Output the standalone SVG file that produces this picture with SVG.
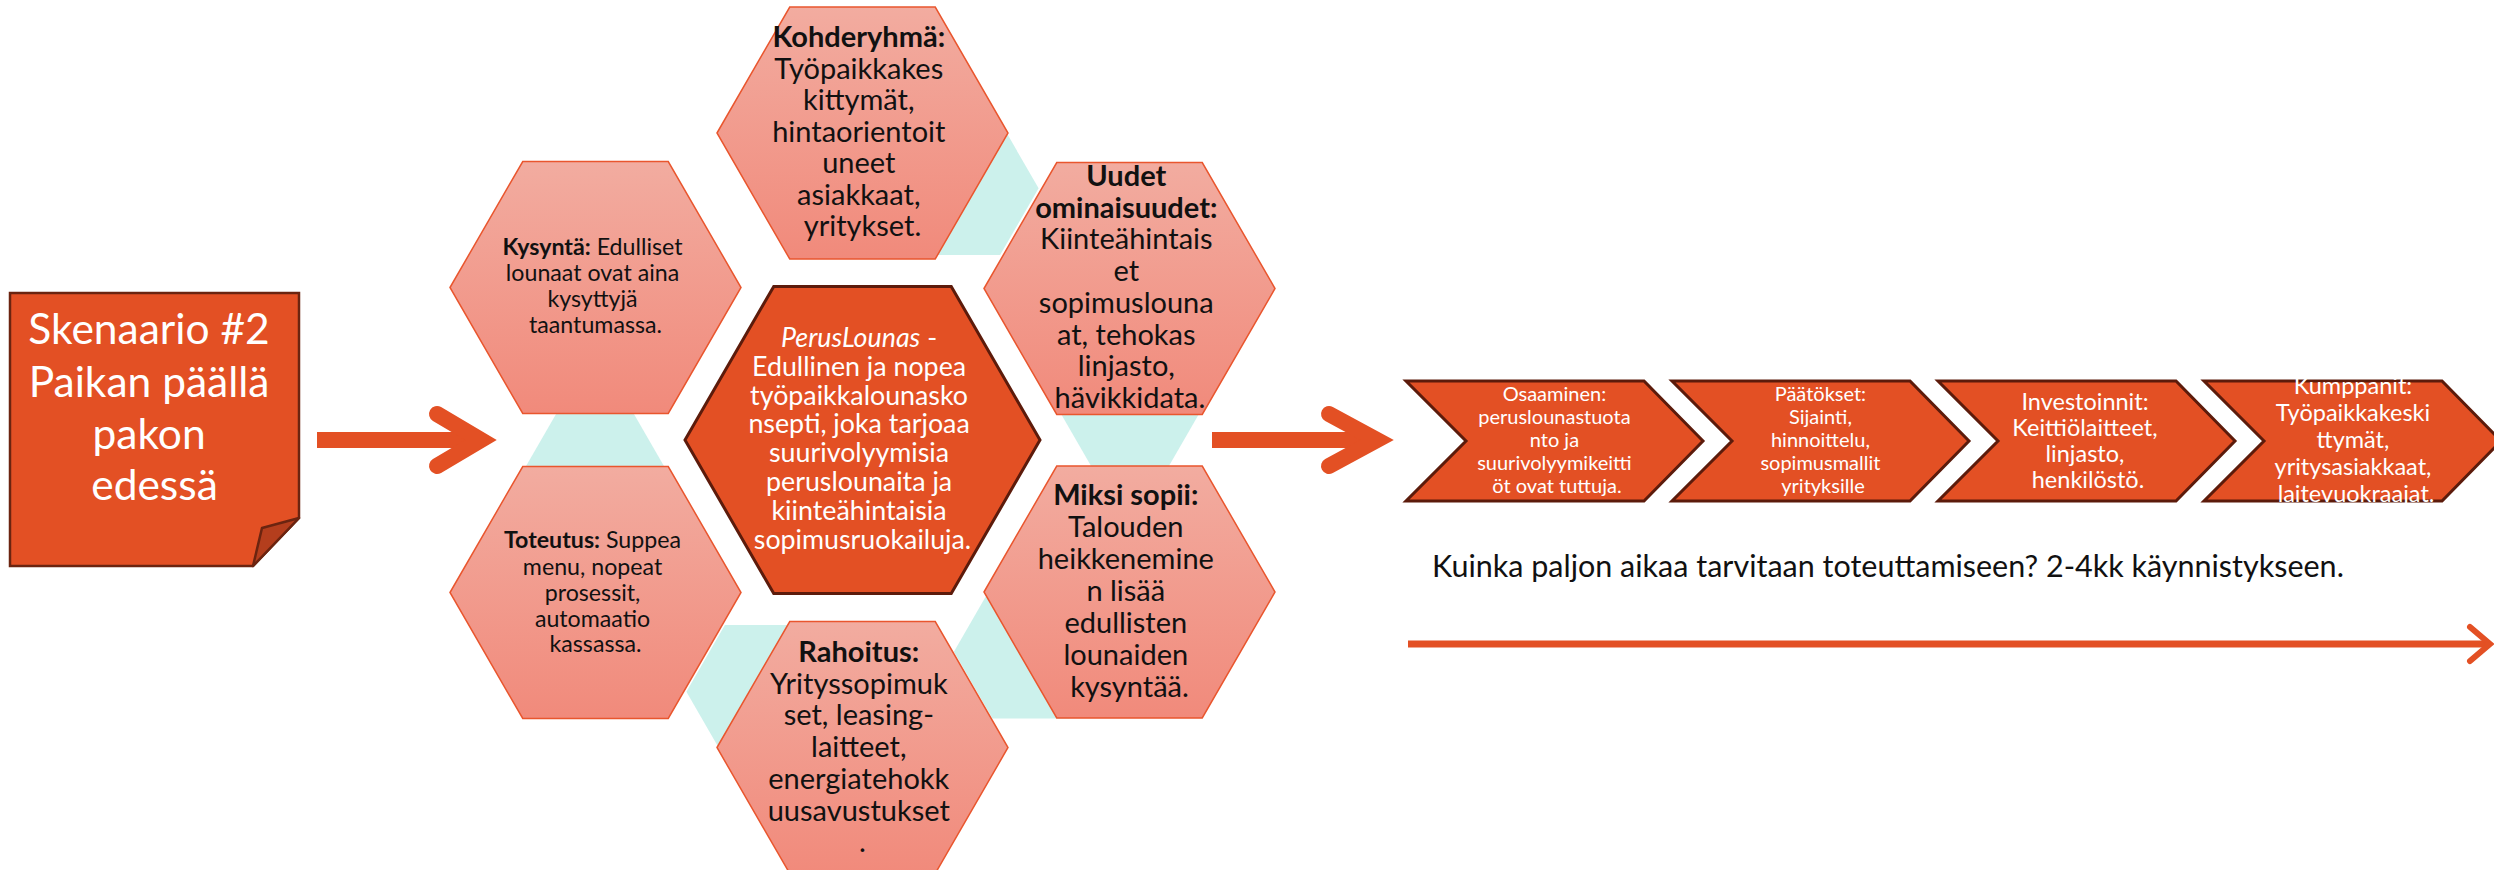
<svg xmlns="http://www.w3.org/2000/svg" width="2494" height="870" viewBox="0 0 2494 870">
<defs>
<linearGradient id="pink" x1="0" y1="0" x2="0" y2="1">
<stop offset="0" stop-color="#F2ACA0"/>
<stop offset="1" stop-color="#F18A7B"/>
</linearGradient>
<style>
.hex{fill:url(#pink);stroke:#E9562E;stroke-width:1.5}
.teal{fill:#CCF1EC}
.dark{fill:#E35024;stroke:#5C1B0B;stroke-width:3}
.ar{fill:none;stroke:#E35024;stroke-linecap:round;stroke-linejoin:miter}
.t{font-family:Lato,"Liberation Sans",sans-serif;text-anchor:middle;fill:#111}
.w{fill:#fff}
.b{font-weight:700}
</style>
</defs>
<rect width="2494" height="870" fill="#fff"/>

<g id="connectors">
<polygon class="teal" transform="translate(1130,400)" points="-77,0 -38.5,-66.7 38.5,-66.7 77,0 38.5,66.7 -38.5,66.7"/>
<polygon class="teal" transform="translate(961.6,188.3)" points="-77,0 -38.5,-66.7 38.5,-66.7 77,0 38.5,66.7 -38.5,66.7"/>
<polygon class="teal" transform="translate(595,480)" points="-77,0 -38.5,-66.7 38.5,-66.7 77,0 38.5,66.7 -38.5,66.7"/>
<polygon class="teal" transform="translate(763.4,691.7)" points="-77,0 -38.5,-66.7 38.5,-66.7 77,0 38.5,66.7 -38.5,66.7"/>
<polygon class="teal" transform="translate(1030.9,651.7)" points="-77,0 -38.5,-66.7 38.5,-66.7 77,0 38.5,66.7 -38.5,66.7"/>
<rect x="317" y="432" width="166" height="16" fill="#E35024"/>
<polyline class="ar" stroke-width="16" points="437,414 481,440 437,466"/>
<rect x="1212" y="432" width="167" height="16" fill="#E35024"/>
<polyline class="ar" stroke-width="16" points="1329,414 1377,440 1329,466"/>
<line x1="1408" y1="644" x2="2486" y2="644" stroke="#E35024" stroke-width="7"/>
<polyline class="ar" stroke-width="6" points="2470,627 2490,644 2470,661"/>
</g>

<g id="scenario">
<polygon points="10,293 299,293 299,518 253,566 10,566" fill="#E35024" stroke="#6B2410" stroke-width="2.5"/>
<polygon points="299,518 262,528 253,566" fill="#B43E1D" stroke="#6B2410" stroke-width="2.5" stroke-linejoin="round"/>
<text class="t w" font-size="42.5">
<tspan x="154.5" y="344">Skenaario #2</tspan>
<tspan x="154.5" y="397">Paikan päällä</tspan>
<tspan x="154.5" y="449">pakon</tspan>
<tspan x="154.5" y="500">edessä</tspan>
</text>
</g>

<g id="hex-kohderyhma">
<polygon class="hex" transform="translate(862.5,133)" points="-145.5,0 -72.75,-126 72.75,-126 145.5,0 72.75,126 -72.75,126"/>
<text class="t" font-size="29">
<tspan x="862.5" y="47" class="b">Kohderyhmä:</tspan>
<tspan x="862.5" y="78.5">Työpaikkakes</tspan>
<tspan x="862.5" y="110">kittymät,</tspan>
<tspan x="862.5" y="141.5">hintaorientoit</tspan>
<tspan x="862.5" y="173">uneet</tspan>
<tspan x="862.5" y="204.5">asiakkaat,</tspan>
<tspan x="862.5" y="236">yritykset.</tspan>
</text>
</g>

<g id="hex-uudet">
<polygon class="hex" transform="translate(1129.5,288.5)" points="-145.5,0 -72.75,-126 72.75,-126 145.5,0 72.75,126 -72.75,126"/>
<text class="t" font-size="29">
<tspan x="1130" y="186" class="b">Uudet</tspan>
<tspan x="1130" y="217.7" class="b">ominaisuudet:</tspan>
<tspan x="1130" y="249.4">Kiinteähintais</tspan>
<tspan x="1130" y="281">et</tspan>
<tspan x="1130" y="312.8">sopimuslouna</tspan>
<tspan x="1130" y="344.5">at, tehokas</tspan>
<tspan x="1130" y="376.2">linjasto,</tspan>
<tspan x="1130" y="408">hävikkidata.</tspan>
</text>
</g>

<g id="hex-miksi">
<polygon class="hex" transform="translate(1129.5,592)" points="-145.5,0 -72.75,-126 72.75,-126 145.5,0 72.75,126 -72.75,126"/>
<text class="t" font-size="29">
<tspan x="1129.5" y="505" class="b">Miksi sopii:</tspan>
<tspan x="1129.5" y="537">Talouden</tspan>
<tspan x="1129.5" y="569">heikkenemine</tspan>
<tspan x="1129.5" y="601">n lisää</tspan>
<tspan x="1129.5" y="633">edullisten</tspan>
<tspan x="1129.5" y="665">lounaiden</tspan>
<tspan x="1129.5" y="697">kysyntää.</tspan>
</text>
</g>

<g id="hex-rahoitus">
<polygon class="hex" transform="translate(862.5,747.5)" points="-145.5,0 -72.75,-126 72.75,-126 145.5,0 72.75,126 -72.75,126"/>
<text class="t" font-size="29">
<tspan x="862.5" y="662" class="b">Rahoitus:</tspan>
<tspan x="862.5" y="693.7">Yrityssopimuk</tspan>
<tspan x="862.5" y="725.4">set, leasing-</tspan>
<tspan x="862.5" y="757">laitteet,</tspan>
<tspan x="862.5" y="788.8">energiatehokk</tspan>
<tspan x="862.5" y="820.5">uusavustukset</tspan>
<tspan x="862.5" y="852">.</tspan>
</text>
</g>

<g id="hex-toteutus">
<polygon class="hex" transform="translate(595.5,592.5)" points="-145.5,0 -72.75,-126 72.75,-126 145.5,0 72.75,126 -72.75,126"/>
<text class="t" font-size="23.2">
<tspan x="595.5" y="548"><tspan class="b">Toteutus:</tspan> Suppea</tspan>
<tspan x="595.5" y="574.5">menu, nopeat</tspan>
<tspan x="595.5" y="601">prosessit,</tspan>
<tspan x="595.5" y="627">automaatio</tspan>
<tspan x="595.5" y="652">kassassa.</tspan>
</text>
</g>

<g id="hex-kysynta">
<polygon class="hex" transform="translate(595.5,287.5)" points="-145.5,0 -72.75,-126 72.75,-126 145.5,0 72.75,126 -72.75,126"/>
<text class="t" font-size="23.2">
<tspan x="595.5" y="255"><tspan class="b">Kysyntä:</tspan> Edulliset</tspan>
<tspan x="595.5" y="281">lounaat ovat aina</tspan>
<tspan x="595.5" y="307">kysyttyjä</tspan>
<tspan x="595.5" y="333">taantumassa.</tspan>
</text>
</g>

<g id="hex-center">
<polygon class="dark" transform="translate(862.5,440)" points="-177.5,0 -88.75,-153.5 88.75,-153.5 177.5,0 88.75,153.5 -88.75,153.5"/>
<text class="t w" font-size="26.8">
<tspan x="862.5" y="347"><tspan font-style="italic">PerusLounas</tspan> -</tspan>
<tspan x="862.5" y="375.8">Edullinen ja nopea</tspan>
<tspan x="862.5" y="404.6">työpaikkalounasko</tspan>
<tspan x="862.5" y="433.4">nsepti, joka tarjoaa</tspan>
<tspan x="862.5" y="462.2">suurivolyymisia</tspan>
<tspan x="862.5" y="491">peruslounaita ja</tspan>
<tspan x="862.5" y="519.8">kiinteähintaisia</tspan>
<tspan x="862.5" y="548.6">sopimusruokailuja.</tspan>
</text>
</g>

<g id="step-osaaminen">
<polygon class="dark" points="1406,381 1644,381 1703,441 1644,501 1406,501 1466,441"/>
<text class="t w" font-size="20">
<tspan x="1557" y="401">Osaaminen:</tspan>
<tspan x="1557" y="424">peruslounastuota</tspan>
<tspan x="1557" y="447">nto ja</tspan>
<tspan x="1557" y="470">suurivolyymikeitti</tspan>
<tspan x="1557" y="493">öt ovat tuttuja.</tspan>
</text>
</g>

<g id="step-paatokset">
<polygon class="dark" points="1672,381 1910,381 1969,441 1910,501 1672,501 1732,441"/>
<text class="t w" font-size="20">
<tspan x="1823" y="401">Päätökset:</tspan>
<tspan x="1823" y="424">Sijainti,</tspan>
<tspan x="1823" y="447">hinnoittelu,</tspan>
<tspan x="1823" y="470">sopimusmallit</tspan>
<tspan x="1823" y="493">yrityksille</tspan>
</text>
</g>

<g id="step-investoinnit">
<polygon class="dark" points="1938,381 2176,381 2235,441 2176,501 1938,501 1998,441"/>
<text class="t w" font-size="23.5">
<tspan x="2088" y="410">Investoinnit:</tspan>
<tspan x="2088" y="436">Keittiölaitteet,</tspan>
<tspan x="2088" y="462">linjasto,</tspan>
<tspan x="2088" y="488">henkilöstö.</tspan>
</text>
</g>

<g id="step-kumppanit">
<polygon class="dark" points="2204,381 2442,381 2501,441 2442,501 2204,501 2264,441"/>
<text class="t w" font-size="23.5">
<tspan x="2356" y="394">Kumppanit:</tspan>
<tspan x="2356" y="421">Työpaikkakeski</tspan>
<tspan x="2356" y="448">ttymät,</tspan>
<tspan x="2356" y="475">yritysasiakkaat,</tspan>
<tspan x="2356" y="502">laitevuokraajat.</tspan>
</text>
</g>

<g id="timeline-label">
<text font-family="Lato,'Liberation Sans',sans-serif" font-size="30.5" fill="#111" x="1432" y="577">Kuinka paljon aikaa tarvitaan toteuttamiseen? 2-4kk käynnistykseen.</text>
</g>
</svg>
